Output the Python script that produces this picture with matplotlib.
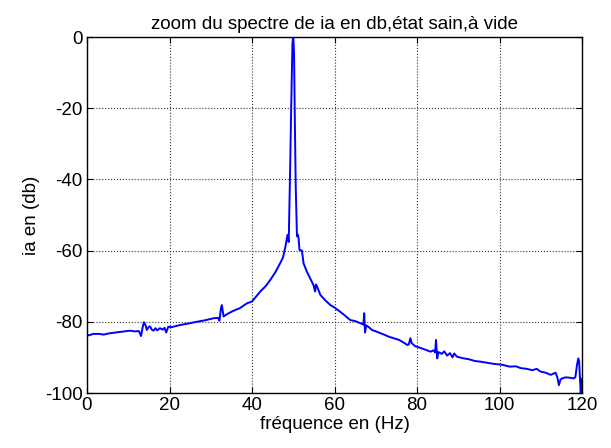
import matplotlib
matplotlib.use("Agg")
import matplotlib.pyplot as plt

plt.rcParams['font.family'] = ['Liberation Sans', 'DejaVu Sans']
plt.rcParams['axes.unicode_minus'] = False

title = "zoom du spectre de ia en db,état sain,à vide"
xlabel = "fréquence en (Hz)"
ylabel = "ia en (db)"
xticks = [0, 20, 40, 60, 80, 100, 120]
yticks = [-100, -80, -60, -40, -20, 0]

freq = [0, 0.5, 1.5, 3, 4, 5.6, 7, 8.5, 10.4, 11.7, 12.6, 13.1, 13.5, 13.8, 14.2, 14.5,
        15.0, 15.3, 15.7, 16.1, 16.6, 17.0, 17.7, 18.3, 18.8, 19.2, 19.7, 20.5, 22.6,
        24.5, 26.6, 28.5, 30.7, 31.8, 32.1, 32.5, 32.7, 33.1, 34.0, 35.5, 37.0, 38.8,
        40.0, 42.0, 43.3, 44.4, 45.6, 46.8, 47.5, 48.1, 48.6, 48.9, 49.2, 49.5, 49.8,
        50.0, 50.2, 50.4, 50.6, 50.9, 51.1, 51.3, 51.5, 52.1, 52.5, 53.3, 54.1, 54.9,
        55.3, 55.5, 55.8, 56.6, 57.8, 59.0, 60.0, 61.4, 62.6, 63.8, 65.0, 66.3, 67.0,
        67.2, 67.4, 67.7, 68.3, 69.1, 70.3, 72.0, 73.2, 74.3, 75.7, 77.0, 77.6, 78.0,
        78.4, 78.7, 79.6, 80.0, 81.5, 83.3, 84.0, 84.4, 84.6, 84.9, 85.2, 86.0, 86.6,
        87.3, 88.0, 88.6, 89.0, 89.7, 91.0, 92.5, 94.0, 95.4, 97.0, 98.5, 100.8, 102.5,
        104.0, 105.1, 106.5, 108.0, 109.0, 110.0, 111.2, 112.4, 113.6, 114.0, 114.4,
        114.8, 115.2, 116.0, 117.0, 118.0, 118.4, 118.8, 119.1, 119.3, 119.5, 119.7,
        119.85, 120.0]

ia_db = [-83.6, -83.8, -83.4, -83.4, -83.6, -83.2, -83.0, -82.8, -82.5, -82.7, -82.6,
         -84.0, -81.5, -80.1, -81.0, -82.3, -81.4, -81.3, -82.2, -82.5, -81.8, -82.4,
         -81.8, -82.2, -81.7, -83.0, -81.4, -81.5, -80.9, -80.5, -80.0, -79.6, -79.0,
         -78.9, -79.7, -76.0, -75.3, -78.5, -77.8, -76.9, -76.2, -74.8, -74.3, -71.5,
         -70.0, -68.3, -66.2, -63.6, -62.0, -58.9, -55.6, -57.6, -40.0, -20.0, -2.0,
         0.5, -5.0, -25.0, -42.0, -56.0, -55.5, -56.5, -59.8, -60.0, -63.6, -65.9,
         -67.8, -69.7, -71.5, -69.5, -70.2, -72.5, -74.0, -75.3, -76.0, -77.2, -78.3,
         -79.5, -79.8, -80.4, -80.8, -77.6, -83.0, -81.0, -81.5, -82.3, -82.8, -83.6,
         -84.2, -84.6, -85.1, -86.0, -86.5, -86.4, -84.6, -86.0, -86.9, -87.0, -87.6,
         -88.4, -88.0, -88.6, -85.1, -90.3, -88.5, -89.0, -88.3, -89.5, -88.8, -90.0,
         -88.9, -89.8, -90.2, -90.5, -91.0, -91.2, -91.5, -91.8, -92.1, -92.6, -92.5,
         -93.0, -93.2, -93.6, -93.2, -94.0, -94.3, -94.9, -94.3, -95.5, -97.8, -96.2,
         -95.9, -95.6, -95.7, -95.9, -95.5, -92.0, -90.3, -91.0, -96.0, -100.5, -96.4,
         -96.0]

fig = plt.figure(figsize=(6.11, 4.48), dpi=100)
ax = fig.add_axes([87/611, 1 - 393/448, (582 - 87)/611, (393 - 37)/448])
ax.plot(freq, ia_db, color='#0000ff', linewidth=1.4)
ax.set_xlim(0, 120)
ax.set_ylim(-100, 0)
ax.set_xticks(xticks)
ax.set_yticks(yticks)
ax.grid(True, color='#333333', linestyle=':', linewidth=0.8)
ax.tick_params(direction='in', top=True, right=True, labelsize=13.5, length=4, width=0.8, pad=3)
for s in ax.spines.values():
    s.set_linewidth(1.0)
ax.set_title(title, fontsize=13.5, pad=6)
ax.set_xlabel(xlabel, fontsize=13.5, labelpad=1)
ax.set_ylabel(ylabel, fontsize=13.5, labelpad=4)
fig.savefig("out.png", dpi=100)
